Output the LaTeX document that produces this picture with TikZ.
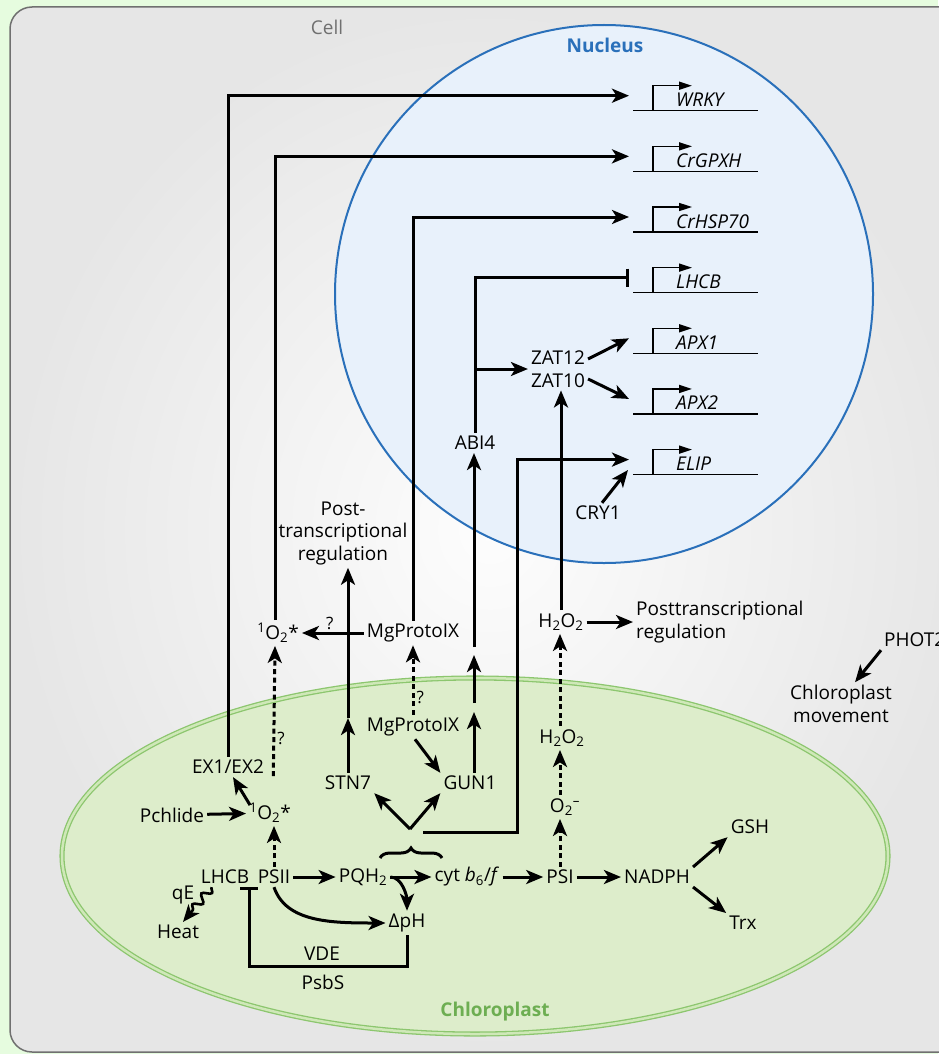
\documentclass[tikz,border=0pt]{standalone}
\usepackage{fontspec}
\setmainfont{Open Sans}
\usetikzlibrary{positioning, calc, arrows.meta, decorations.pathreplacing, decorations.pathmorphing}
\definecolor{bgout}{HTML}{E6FCDF}
\definecolor{cellin}{HTML}{FDFDFD}
\definecolor{cellout}{HTML}{E6E6E6}
\definecolor{cellline}{HTML}{707070}
\definecolor{nucline}{HTML}{2A70BA}
\definecolor{nucfill}{HTML}{E8F1FB}
\definecolor{chlline}{HTML}{8CC66E}
\definecolor{chlmid}{HTML}{CFE8B8}
\definecolor{chlfill}{HTML}{DDEDCB}
\definecolor{chltext}{HTML}{6DAE52}

\begin{document}
\begin{tikzpicture}[x=1pt, y=-1pt,
  every node/.style={font=\fontsize{19}{22.5}\selectfont, inner sep=3pt},
  >={Stealth[length=17pt, width=14pt, inset=4.5pt]},
  sig/.style={->, line width=3pt},
  dots/.style={->, line width=3pt, dash pattern=on 5pt off 3.5pt},
  inh/.style={-{Bar[width=18pt]}, line width=3pt},
  gene/.style={font=\fontsize{19}{22.5}\selectfont\itshape, anchor=base west, inner sep=0pt},
  prom/.style={-{Triangle[length=13pt, width=8pt]}, line width=1.6pt},
  qm/.style={font=\fontsize{17}{20}\selectfont, inner sep=2pt}]

  \useasboundingbox (0,0) rectangle (938,1054);
  \fill[bgout] (0,0) rectangle (938,1054);
  \shadedraw[rounded corners=22pt, inner color=cellin, outer color=cellout, draw=cellline, line width=1.5pt] (10,7) rectangle (970,1052);
  \draw[nucline, fill=nucfill, line width=2pt] (604,294) circle[radius=269];
  \draw[chlline, fill=chlfill, line width=1.3pt, double=chlmid, double distance=2.5pt] (475,856) ellipse[x radius=413, y radius=178];

  \node[text=cellline] (cell) at (327,27) {Cell};
  \node[text=nucline, font=\fontsize{19}{22.5}\selectfont\bfseries] (nuc) at (605,45) {Nucleus};
  \node[text=chltext, font=\fontsize{19}{22.5}\selectfont\bfseries] (chl) at (495,1012) {Chloroplast};

  \foreach \g [count=\i from 0] in {WRKY,CrGPXH,CrHSP70,LHCB,APX1,APX2,ELIP} {
    \pgfmathsetmacro\gy{110.7+60.65*\i}
    \draw[line width=1.6pt] (633,\gy) -- (758,\gy);
    \draw[prom] (653,\gy) -- (653,\gy-25) -- (692,\gy-25);
    \node[gene] (g\g) at (676,\gy-4) {\g};
    \coordinate (t\g) at (629,\gy-15);
  }

  \node (ex) at (228,767) {EX1/EX2};
  \node (solow) at (270,813) {\textsuperscript{1}O\textsubscript{2}*};
  \node (pchl) at (172,815) {Pchlide};
  \node (sox) at (278,633) {\textsuperscript{1}O\textsubscript{2}*};
  \node (mgup) at (413,633) {MgProtoIX};
  \node (mglow) at (413,727) {MgProtoIX};
  \node (stn) at (348,783) {STN7};
  \node (gun) at (470,783) {GUN1};
  \node[align=center] (postreg) at (343,533) {Post-\\transcriptional\\regulation};
  \node (abi) at (475,443) {ABI4};
  \node[align=center] (zat) at (558,369) {ZAT12\\ZAT10};
  \node (cry) at (598,513) {CRY1};
  \node (h2up) at (561,622) {H\textsubscript{2}O\textsubscript{2}};
  \node[anchor=west, align=left] (ptr) at (633,622) {Posttranscriptional\\regulation};
  \node (h2low) at (562,738) {H\textsubscript{2}O\textsubscript{2}};
  \node (om) at (565,807) {O\textsubscript{2}\textsuperscript{\textendash}};
  \node[anchor=west] (phot) at (881,640) {PHOT2};
  \node[align=center] (chmov) at (841,704) {Chloroplast\\movement};
  \node (lhcb) at (225,877) {LHCB};
  \node (psii) at (274,877) {PSII};
  \node (pqh) at (363,877) {PQH\textsubscript{2}};
  \node (cyt) at (467,877) {cyt \textit{b}\textsubscript{6}/\textit{f}};
  \node (psi) at (560,877) {PSI};
  \node (nadph) at (657,877) {NADPH};
  \node (gsh) at (750,827) {GSH};
  \node (trx) at (743,923) {Trx};
  \node (dph) at (407,923) {ΔpH};
  \node (heat) at (178,932) {Heat};
  \node (qe) at (183,895) {qE};
  \node (vde) at (322,954) {VDE};
  \node (psbs) at (323,982) {PsbS};

  \coordinate (split) at (410,829);
  \coordinate (braceL) at (380,858);
  \coordinate (braceR) at (442,858);
  \coordinate (elipbase) at (423,832);
  \coordinate (elipturn) at (517,832);
  \coordinate (tcry) at (628,470);
  \coordinate (stnhead) at (347,718);
  \coordinate (gunA) at (474,712);
  \coordinate (gunB) at (474,703);
  \coordinate (gunC) at (474,655);
  \coordinate (gunD) at (474,647);
  \coordinate (inhc) at (407,966);

  \draw[sig] (ex.north) |- (tWRKY);
  \draw[sig] ([xshift=-3pt]sox.north) |- (tCrGPXH);
  \draw[sig] (mgup.north) |- (tCrHSP70);
  \draw[inh] (abi.north) |- (tLHCB);
  \draw[sig] (abi.north |- zat.west) -- (zat.west);
  \draw[sig] ([yshift=10pt]zat.east) -- (tAPX1);
  \draw[sig] ([yshift=-10pt]zat.east) -- (tAPX2);
  \draw[sig] (elipbase) -- (elipturn) |- (tELIP);
  \draw[sig] ([xshift=4pt]cry.north) -- (tcry);
  \draw[sig] (h2up.north) -- (h2up.north |- zat.south);
  \draw[sig] (h2up.east) -- (ptr.west);
  \draw[sig] (phot.south west) -- ([xshift=14pt]chmov.north);

  \draw[dots] (psi.north) -- (psi.north |- om.south);
  \draw[dots] (psi.north |- om.north) -- (psi.north |- h2low.south);
  \draw[dots] (psi.north |- h2low.north) -- (psi.north |- h2up.south);

  \draw[sig] (stn.north) -- (stn.north |- stnhead);
  \draw[sig] (stn.north |- stnhead) -- (stn.north |- postreg.south);
  \draw[sig] (mgup.west) -- node[qm, above, pos=0.55] {?} (sox.east);
  \draw[dots] (mglow.north) -- node[qm, right, pos=0.25] {?} (mgup.south);
  \draw[sig] ([xshift=2pt]mglow.south) -- (gun.north west);
  \draw[sig] (gunA |- gun.north) -- (gunA);
  \draw[sig] (gunB) -- (gunC);
  \draw[sig] (gunD) -- (gunD |- abi.south);

  \draw[decorate, decoration={brace, amplitude=10pt}, line width=3pt] (braceL) -- (braceR);
  \draw[sig] (split) -- (stn.south east);
  \draw[sig] (split) -- (gun.south west);

  \draw[sig] (pchl) -- (solow);
  \draw[sig] ([xshift=4pt, yshift=-5pt]solow.north west) -- ([xshift=5pt]ex.south);
  \draw[dots] (psii.north) -- (psii.north |- solow.south);
  \draw[dots, shorten <=24pt] ([xshift=3pt]solow.north) -- node[qm, right, pos=0.4] {?} ([xshift=-3pt]sox.south);

  \draw[sig] (psii) -- (pqh);
  \draw[sig] (pqh) -- (cyt);
  \draw[sig] (pqh.east) .. controls +(12,0) and +(0,-14) .. (dph.north);
  \draw[sig] (psii.south) .. controls +(12,35) and +(-55,0) .. (dph.west);
  \draw[sig] (cyt) -- (psi);
  \draw[sig] (psi) -- (nadph);
  \draw[sig] (nadph.north east) -- (gsh.south west);
  \draw[sig] (nadph.south east) -- (trx.north west);

  \draw[inh] (dph.south) -- (inhc) -| ([xshift=-3pt]lhcb.south east);
  \draw[->, line width=2.6pt, decorate, decoration={snake, amplitude=4pt, segment length=14pt, post length=13pt}] ([xshift=14pt]lhcb.south west) -- ([xshift=5pt]heat.north);
\end{tikzpicture}
\end{document}
